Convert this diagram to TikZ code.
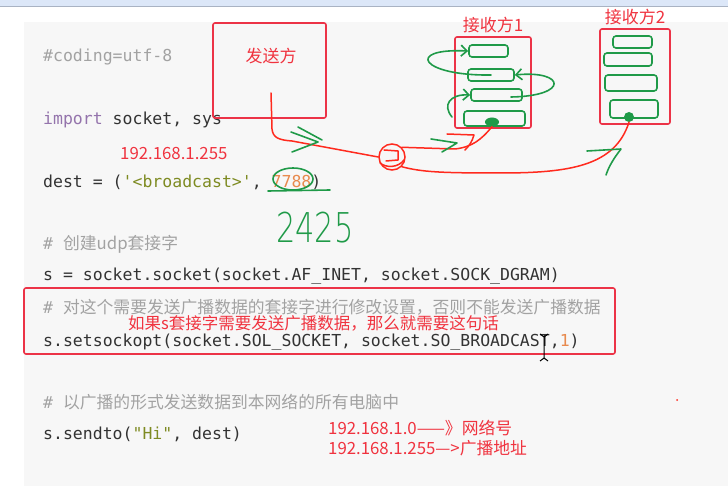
\documentclass[tikz,border=0pt]{standalone}
\usepackage{fontspec}
\setmainfont{Noto Sans CJK SC}
\setmonofont{DejaVu Sans Mono}
\newfontfamily\cjk{Noto Sans CJK SC}
\IfFontExistsTF{DejaVuSans-ExtraLight.ttf}
    {\newfontfamily\handfont{DejaVuSans-ExtraLight.ttf}}
    {\IfFontExistsTF{Lato-Light.ttf}
        {\newfontfamily\handfont{Lato-Light.ttf}}
        {\newfontfamily\handfont{Fira Sans}}}
\usetikzlibrary{arrows.meta, positioning, shapes.geometric}

\definecolor{codeink}{HTML}{333333}
\definecolor{commentgray}{HTML}{A2A2A2}
\definecolor{kwpurple}{HTML}{9474AC}
\definecolor{strgreen}{HTML}{7E8B22}
\definecolor{numorange}{HTML}{E88A4E}
\definecolor{notered}{HTML}{F0333F}
\definecolor{boxred}{HTML}{EC3347}
\definecolor{penred}{HTML}{FF2A1E}
\definecolor{inkgreen}{HTML}{1F9A48}
\definecolor{pagegray}{HTML}{F7F7F7}
\definecolor{stripblue}{HTML}{DCE7F8}
\definecolor{stripline}{HTML}{A9B3C3}

\begin{document}
\begin{tikzpicture}[
    x=1pt, y=-1pt,
    code/.style={anchor=base west, inner sep=0pt, text=codeink,
        font=\fontsize{16.5}{20}\selectfont\ttfamily},
    comment/.style={code, text=commentgray},
    note/.style={anchor=base west, inner sep=0pt, text=notered,
        font=\fontsize{16.8}{20}\selectfont\cjk},
    redbox/.style={draw=boxred, line width=1.6pt, rounded corners=2pt, inner sep=0pt},
    slot/.style={draw=inkgreen, line width=1.6pt, rounded corners=3pt, inner sep=0pt},
    redpen/.style={draw=penred, line width=1.5pt, line cap=round, line join=round},
    greenpen/.style={draw=inkgreen, line width=1.6pt, line cap=round, line join=round},
    barb/.style={greenpen, -{Straight Barb[length=6pt, width=11pt]}}
]
    \useasboundingbox (0,0) rectangle (728,486);
    % page and code block
    \fill[white] (0,0) rectangle (728,486);
    \fill[stripblue] (0,0) rectangle (728,6);
    \draw[stripline, line width=1.2pt] (0,6.8) -- (728,6.8);
    \fill[pagegray] (24,22) rectangle (728,486);

    % code lines
    \node[comment] (l1) at (43,62) {\#coding=utf-8};
    \node[code] (l2) at (43,125) {\textcolor{kwpurple}{import} socket, sys};
    \node[code] (l3) at (43,188) {dest = (\textcolor{strgreen}{'<broadcast>'}, \textcolor{numorange}{7788})};
    \node[comment] (l4) at (43,250) {\# {\cjk\fontsize{16.8}{20}\selectfont 创建udp套接字}};
    \node[code] (l5) at (43,281) {s = socket.socket(socket.AF\_INET, socket.SOCK\_DGRAM)};
    \node[comment] (l6) at (43,313) {\# {\cjk\fontsize{16.8}{20}\selectfont 对这个需要发送广播数据的套接字进行修改设置，否则不能发送广播数据}};
    \node[code] (l7) at (43,346) {s.setsockopt(socket.SOL\_SOCKET, socket.SO\_BROADCAST,\textcolor{numorange}{1})};
    \node[comment] (l8) at (43,408) {\# {\cjk\fontsize{16.8}{20}\selectfont 以广播的形式发送数据到本网络的所有电脑中}};
    \node[code] (l9) at (43,439) {s.sendto(\textcolor{strgreen}{"Hi"}, dest)};

    % red notes
    \node[note] (bcast) at (120,160) {192.168.1.255};
    \node[note, font=\fontsize{16.5}{20}\selectfont\cjk] (need) at (128,329) {如果s套接字需要发送广播数据，那么就需要这句话};
    \node[note] (netno) at (328,434) {192.168.1.0——》网络号};
    \node[note] (bcaddr) at (328,454) {192.168.1.255—>广播地址};
    \node[redbox, minimum width=591, minimum height=66] (optbox) at (319.5,321) {};
    \fill[penred] (677,400) circle (1);

    % text cursor
    \draw[black, line width=1pt] (544,336) -- (544,359)
        (540,334) -- (544,337) -- (548,334)
        (540,361) -- (544,358) -- (548,361);

    % port mark
    \draw[greenpen] (293,179) ellipse (20 and 11);
    \draw[greenpen] (268,191) -- (330,190);
    \node[text=inkgreen, inner sep=0pt, font=\fontsize{38}{38}\selectfont\handfont] (port) at (315,228) {\scalebox{0.8}[1.08]{2425}};

    % sender
    \node[redbox, minimum width=113, minimum height=95] (sender) at (269.5,70.5) {};
    \node[text=notered, inner sep=0pt, font=\fontsize{17}{20}\selectfont\cjk] (senderlbl) at (271,56) {发送方};
    \coordinate (sendtip) at (271,93);

    % receiver 1
    \node[redbox, minimum width=76, minimum height=91] (recv1) at (493,82.5) {};
    \node[text=notered, inner sep=0pt, font=\fontsize{17}{20}\selectfont\cjk, above=3pt of recv1] (recv1lbl) {接收方1};
    \node[slot, minimum width=39, minimum height=12] (r1a) at (488.5,51) {};
    \node[slot, minimum width=46, minimum height=12] (r1b) at (491,75) {};
    \node[slot, minimum width=51, minimum height=12] (r1c) at (496.5,95) {};
    \node[slot, minimum width=61, minimum height=15] (r1d) at (494.5,118.5) {};
    \node[fill=inkgreen, ellipse, inner sep=0pt, minimum width=14, minimum height=9] (d1) at (492,122) {};

    % receiver 2
    \node[redbox, minimum width=70, minimum height=95] (recv2) at (635,76.5) {};
    \node[text=notered, inner sep=0pt, font=\fontsize{17}{20}\selectfont\cjk, above=3pt of recv2] (recv2lbl) {接收方2};
    \node[slot, minimum width=39, minimum height=12] (r2a) at (632.5,42) {};
    \node[slot, minimum width=48, minimum height=13] (r2b) at (628,59.5) {};
    \node[slot, minimum width=52, minimum height=16] (r2c) at (631,83) {};
    \node[slot, minimum width=48, minimum height=18] (r2d) at (634,109) {};
    \node[fill=inkgreen, circle, inner sep=0pt, minimum size=10] (d2) at (629,117) {};

    % hub scribble
    \node[draw=penred, line width=1.5pt, circle, minimum size=26, inner sep=0pt] (hub) at (392,157) {};
    \draw[redpen] (384,150) -- (398,151) -- (398,160) -- (386,161);
    \draw[redpen] (380,163) .. controls (386,168) and (398,168) .. (404,160);

    % red paths
    \draw[redpen] (sendtip) -- (272,129) .. controls (273,138) and (279,140) .. (292,141) -- (hub.west);
    \draw[redpen] (hub.north east) -- (455,149) .. controls (472,147) and (481,140) .. (d1.south);
    \draw[redpen] (447,134) -- (474,135) .. controls (472,142) and (469,146) .. (465,150);
    \draw[redpen] (hub.south east) .. controls (422,172) and (440,173) .. (500,173)
        .. controls (570,173) and (615,166) .. (d2.south);

    % green ticks
    \draw[greenpen] (298,127) -- (322,140);
    \draw[greenpen] (291,132) -- (318,142) -- (292,152);
    \draw[greenpen] (431,139) -- (457,143) -- (442,152);
    \draw[greenpen] (587,151) -- (621,149) .. controls (614,158) and (609,166) .. (606,175);

    % moves inside receiver 1
    \draw[barb] (r1b.center) .. controls (420,76) and (405,48) .. (r1a.west);
    \draw[barb] (511,97) .. controls (570,96) and (565,70) .. (r1b.east);
    \draw[barb] (452,117) .. controls (442,105) and (450,94) .. (r1c.west);
\end{tikzpicture}
\end{document}
